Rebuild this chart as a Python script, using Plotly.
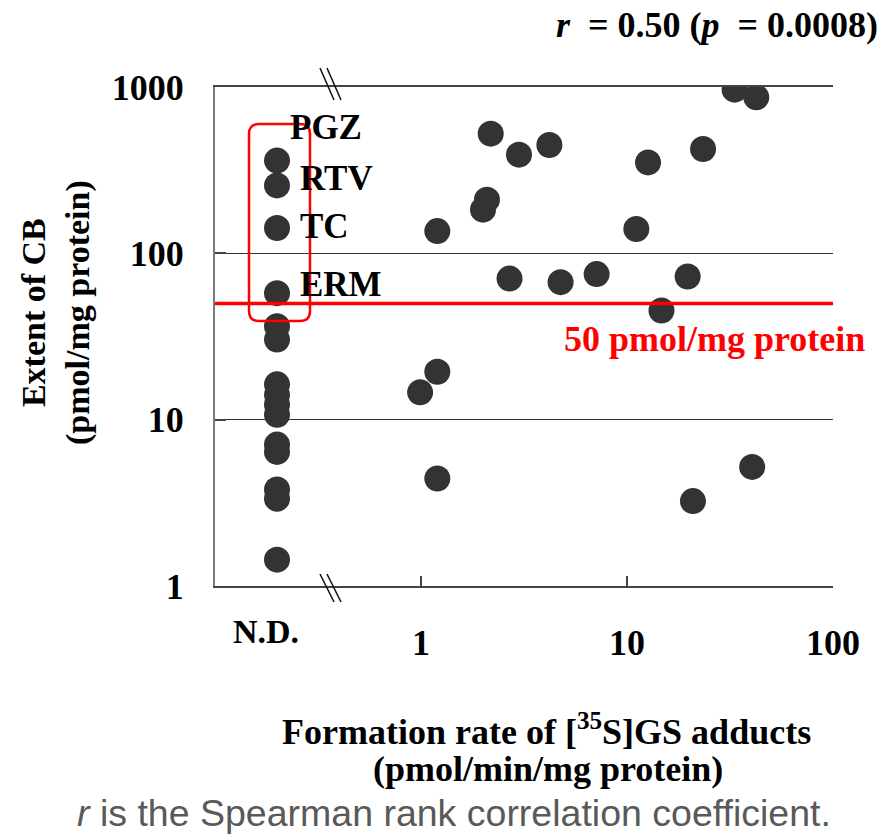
import math
import plotly.graph_objects as go

# ---------------- data ----------------
ND_X = 0.2  # position used for "not detected" samples on the broken axis
ND_LABEL = "N.D."
ND_EXTENT = [361, 256, 142, 57.6, 36.5, 30.3, 16.3, 14.1, 12.3, 10.7,
             7.08, 6.4, 3.8, 3.35, 1.44]
ND_NAMES = ["PGZ", "RTV", "TC", "ERM"]

DET_RATE = [33.3, 42.4, 2.18, 2.99, 4.20, 12.65, 23.4, 2.09, 2.0, 1.20, 11.1,
            2.69, 4.76, 7.12, 19.7, 14.7, 1.20, 0.99, 1.20, 20.9, 40.5]
DET_EXTENT = [964, 867, 524, 392, 448, 352, 424, 210, 183, 136, 140,
              70.5, 67.1, 75, 72.5, 45.3, 19.4, 14.6, 4.43, 3.24, 5.2]

X_TICKS = [1, 10, 100]
X_TICKTEXT = ["1", "10", "100"]
Y_TICKS = [1, 10, 100, 1000]
Y_TICKTEXT = ["1", "10", "100", "1000"]
THRESHOLD = 50
THRESHOLD_LABEL = "50 pmol/mg protein"

# ---------------- layout geometry ----------------
W, H = 883, 835
ML, MR, MT, MB = 215, 50, 87, 249
PW, PH = W - ML - MR, H - MT - MB


def px(p):
    return (p - ML) / PW


def py(p):
    return (H - MB - p) / PH


SERIF = "Liberation Serif, Times New Roman, serif"
SANS = "Liberation Sans, Arial, sans-serif"
DOT = "#333333"

fig = go.Figure()
fig.add_trace(go.Scatter(
    x=[ND_X] * len(ND_EXTENT), y=ND_EXTENT, mode="markers",
    marker=dict(size=26, color=DOT, line=dict(width=0)), showlegend=False,
))
fig.add_trace(go.Scatter(
    x=DET_RATE, y=DET_EXTENT, mode="markers",
    marker=dict(size=26, color=DOT, line=dict(width=0)), showlegend=False,
))

shapes = []
# threshold line
shapes.append(dict(type="line", xref="paper", yref="y", x0=0, x1=1,
                   y0=THRESHOLD, y1=THRESHOLD,
                   line=dict(color="#FF0000", width=3.5), layer="above"))
# rounded highlight box
x0, x1, y0, y1, r = 249, 310, 124, 321, 10
pts = [
    ("M", [(x0 + r, y0)]), ("L", [(x1 - r, y0)]), ("Q", [(x1, y0), (x1, y0 + r)]),
    ("L", [(x1, y1 - r)]), ("Q", [(x1, y1), (x1 - r, y1)]),
    ("L", [(x0 + r, y1)]), ("Q", [(x0, y1), (x0, y1 - r)]),
    ("L", [(x0, y0 + r)]), ("Q", [(x0, y0), (x0 + r, y0)]),
]
path = " ".join(c + " " + " ".join(f"{px(a):.5f},{py(b):.5f}" for a, b in p) for c, p in pts) + " Z"
shapes.append(dict(type="path", xref="paper", yref="paper", path=path,
                   line=dict(color="#FF0000", width=2.5), layer="above"))
# axis break marks
for (ya, yb) in [(68, 100), (574, 602)]:
    for dx in (0, 7):
        shapes.append(dict(type="line", xref="paper", yref="paper",
                           x0=px(320 + dx), x1=px(334 + dx), y0=py(ya), y1=py(yb),
                           line=dict(color="#111111", width=1.5)))

annotations = []
label_shift = [(11, 33), (21, 7), (21, 2), (21, 9)]
for name, val, (dx, dy) in zip(ND_NAMES, ND_EXTENT, label_shift):
    annotations.append(dict(
        x=math.log10(ND_X), y=math.log10(val), xref="x", yref="y",
        text=f"<b>{name}</b>", showarrow=False, xanchor="left", yanchor="middle",
        xshift=dx, yshift=dy, font=dict(family=SERIF, size=35, color="black")))

annotations.append(dict(
    x=math.log10(ND_X), y=py(631), xref="x", yref="paper", text=f"<b>{ND_LABEL}</b>",
    showarrow=False, xanchor="center", yanchor="middle", xshift=-11,
    font=dict(family=SERIF, size=34, color="black")))

annotations.append(dict(
    x=px(562), y=math.log10(THRESHOLD), xref="paper", yref="y",
    text=f"<b>{THRESHOLD_LABEL}</b>", showarrow=False, xanchor="left",
    yanchor="middle", yshift=-36,
    font=dict(family=SERIF, size=36, color="#FF0000")))

annotations.append(dict(
    x=px(880), y=py(25), xref="paper", yref="paper",
    text="<b><i>r</i>&nbsp; = 0.50 (<i>p</i>&nbsp; = 0.0008)</b>",
    showarrow=False, xanchor="right", yanchor="middle",
    font=dict(family=SERIF, size=36, color="black")))

annotations.append(dict(
    x=px(56), y=py(313), xref="paper", yref="paper",
    text="<b>Extent of CB<br>(pmol/mg protein)</b>", textangle=-90,
    showarrow=False, xanchor="center", yanchor="middle",
    font=dict(family=SERIF, size=34, color="black")))

annotations.append(dict(
    x=px(546), y=py(729), xref="paper", yref="paper",
    text="<b>Formation rate of [<sup>35</sup>S]GS adducts</b>",
    showarrow=False, xanchor="center", yanchor="middle",
    font=dict(family=SERIF, size=36, color="black")))
annotations.append(dict(
    x=px(548), y=py(769), xref="paper", yref="paper",
    text="<b>(pmol/min/mg protein)</b>",
    showarrow=False, xanchor="center", yanchor="middle",
    font=dict(family=SERIF, size=36, color="black")))

annotations.append(dict(
    x=px(454), y=py(812.5), xref="paper", yref="paper",
    text="<i>r</i> is the Spearman rank correlation coefficient.",
    showarrow=False, xanchor="center", yanchor="middle",
    font=dict(family=SANS, size=37.5, color="#595959")))

fig.update_layout(
    width=W, height=H,
    margin=dict(l=ML, r=MR, t=MT, b=MB, pad=0),
    paper_bgcolor="white", plot_bgcolor="white",
    shapes=shapes, annotations=annotations,
    xaxis=dict(type="log", range=[-1, 2], tickvals=X_TICKS, ticktext=X_TICKTEXT,
               ticks="inside", ticklen=10, tickcolor="#444", tickwidth=1.5,
               showline=True, linecolor="#444", linewidth=1.5, mirror=True,
               showgrid=False, zeroline=False, ticklabelstandoff=24,
               tickfont=dict(family=SERIF, size=36, color="black", weight="bold")),
    yaxis=dict(type="log", range=[0, 3], tickvals=Y_TICKS, ticktext=Y_TICKTEXT,
               ticks="inside", ticklen=11, tickcolor="#444", tickwidth=1.5,
               showline=True, linecolor="#7a7a7a", linewidth=2,
               showgrid=True, gridcolor="#333", gridwidth=1, zeroline=False,
               ticklabelstandoff=22,
               tickfont=dict(family=SERIF, size=36, color="black", weight="bold")),
)

fig.write_html(
    "out.html",
    config={"displayModeBar": False},
    post_script="document.body.style.margin='0px';document.body.style.overflow='hidden';",
)
